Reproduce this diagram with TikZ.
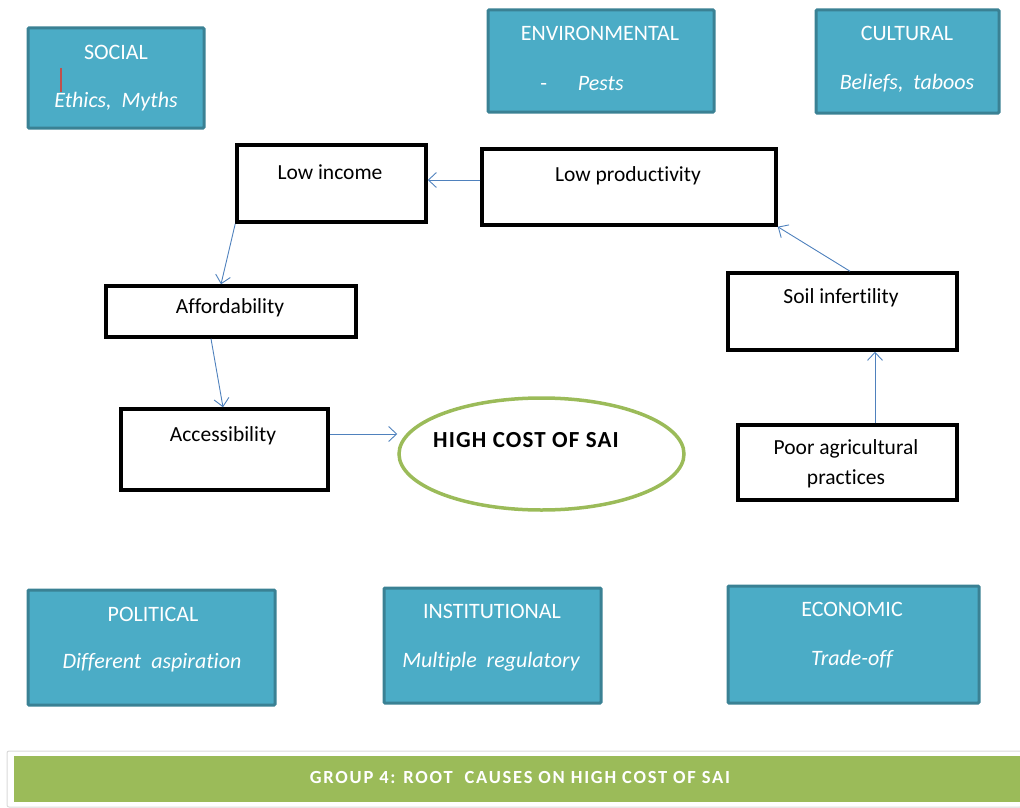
\documentclass[tikz,border=0pt]{standalone}
\usepackage{fontspec}
\setmainfont{Carlito}[Ligatures=NoCommon]
\usetikzlibrary{shapes.geometric,arrows.meta,positioning}

\definecolor{tealfill}{HTML}{4BACC6}
\definecolor{tealline}{HTML}{3A8194}
\definecolor{linkblue}{HTML}{4F81BD}
\definecolor{bannergreen}{HTML}{9BBB59}
\definecolor{cursorred}{HTML}{C0504D}

\begin{document}
\begin{tikzpicture}[x=1pt,y=-1pt,
  factor/.style={draw=tealline, fill=tealfill, line width=3pt, rounded corners=1pt, inner sep=0pt},
  facttxt/.style={text=white, font=\fontsize{22}{26}\selectfont},
  cause/.style={draw=black, line width=3.5pt, inner sep=0pt},
  causetxt/.style={font=\fontsize{21.5}{30}\selectfont, align=center},
  link/.style={-{Straight Barb[length=8pt,width=15pt]}, draw=linkblue, line width=0.9pt}]
\useasboundingbox (0,0) rectangle (1020,808);

% factor boxes, top row
\node[factor, minimum width=176pt, minimum height=100pt] (social) at (116,78) {};
\node[facttxt] (socialtitle) at (116,52) {SOCIAL};
\node[facttxt] (socialsub) at (116,102) {\itshape Ethics,\ \ Myths};
\draw[cursorred, line width=2pt] (61,68) -- (61,92);

\node[factor, minimum width=226pt, minimum height=102pt] (environ) at (601,61) {};
\node[facttxt] (environtitle) at (600,33) {ENVIRONMENTAL};
\node[facttxt] (environsub) at (582,84) {-\hspace{1.4em}\itshape Pests};

\node[factor, minimum width=183pt, minimum height=103pt] (cultural) at (907.5,61.5) {};
\node[facttxt] (culturaltitle) at (907,33) {CULTURAL};
\node[facttxt] (culturalsub) at (907,83) {\itshape Beliefs,\ \ taboos};

% factor boxes, bottom row
\node[factor, minimum width=247pt, minimum height=115pt] (political) at (151.5,647.5) {};
\node[facttxt] (politicaltitle) at (153,614) {POLITICAL};
\node[facttxt] (politicalsub) at (152,663) {\itshape Different\ \ aspiration};

\node[factor, minimum width=217pt, minimum height=115pt] (institut) at (492.5,645.5) {};
\node[facttxt] (instituttitle) at (492,611) {INSTITUTIONAL};
\node[facttxt] (institutsub) at (491,662) {\itshape Multiple\ \ regulatory};

\node[factor, minimum width=251pt, minimum height=117pt] (economic) at (853.5,644.5) {};
\node[facttxt] (economictitle) at (852,609) {ECONOMIC};
\node[facttxt] (economicsub) at (852,659) {\itshape Trade-off};

% causes
\node[cause, minimum width=189pt, minimum height=77pt] (lowinc) at (331.5,183.5) {};
\node[causetxt] (lowinctxt) at (330,172) {Low income};

\node[cause, minimum width=294pt, minimum height=76pt] (lowprod) at (629,187) {};
\node[causetxt] (lowprodtxt) at (628,176) {Low productivity};

\node[cause, minimum width=250pt, minimum height=51pt] (afford) at (231,311.5) {};
\node[causetxt] (affordtxt) at (230,308) {Affordability};

\node[cause, minimum width=207pt, minimum height=81pt] (access) at (224.5,449.5) {};
\node[causetxt] (accesstxt) at (223,436) {Accessibility};

\node[cause, minimum width=229pt, minimum height=77pt] (soil) at (842.5,311.5) {};
\node[causetxt] (soiltxt) at (841,298) {Soil infertility};

\node[cause, minimum width=219pt, minimum height=75pt] (poor) at (847.5,462.5) {};
\node[causetxt] (poortxt) at (846,464) {Poor agricultural\\practices};

% the problem
\node[ellipse, draw=bannergreen, line width=3.5pt, minimum width=285pt, minimum height=112pt] (cost) at (541.5,454) {};
\node[font=\fontsize{23}{26}\selectfont\bfseries\addfontfeature{LetterSpace=5}] (costtxt) at (526,440) {HIGH COST OF SAI};

% links
\draw[link] ([yshift=7pt]lowprod.west) -- ([yshift=3.5pt]lowinc.east);
\draw[link] (lowinc.south west) -- ([xshift=-10pt]afford.north);
\draw[link] ([xshift=-20pt]afford.south) -- ([xshift=-1.5pt]access.north);
\draw[link] ([yshift=15.5pt]access.east) -- ([yshift=15.5pt]access.east -| cost.west);
\draw[link] ([xshift=7.5pt]soil.north) -- (lowprod.south east);
\draw[link] ([xshift=27.5pt]poor.north) -- ([xshift=27.5pt]poor.north |- soil.south);

% title banner
\draw[black!15, line width=1pt, rounded corners=2pt] (7,751) rectangle (1022,807);
\node[fill=bannergreen, minimum width=1007pt, minimum height=46pt, inner sep=0pt] (banner) at (517.5,779) {};
\node[text=white, font=\fontsize{18.5}{20}\selectfont\bfseries\addfontfeature{LetterSpace=9.5}] (bannertxt) at (520,777) {GROUP 4: ROOT\ \ CAUSES ON HIGH COST OF SAI};
\end{tikzpicture}
\end{document}
